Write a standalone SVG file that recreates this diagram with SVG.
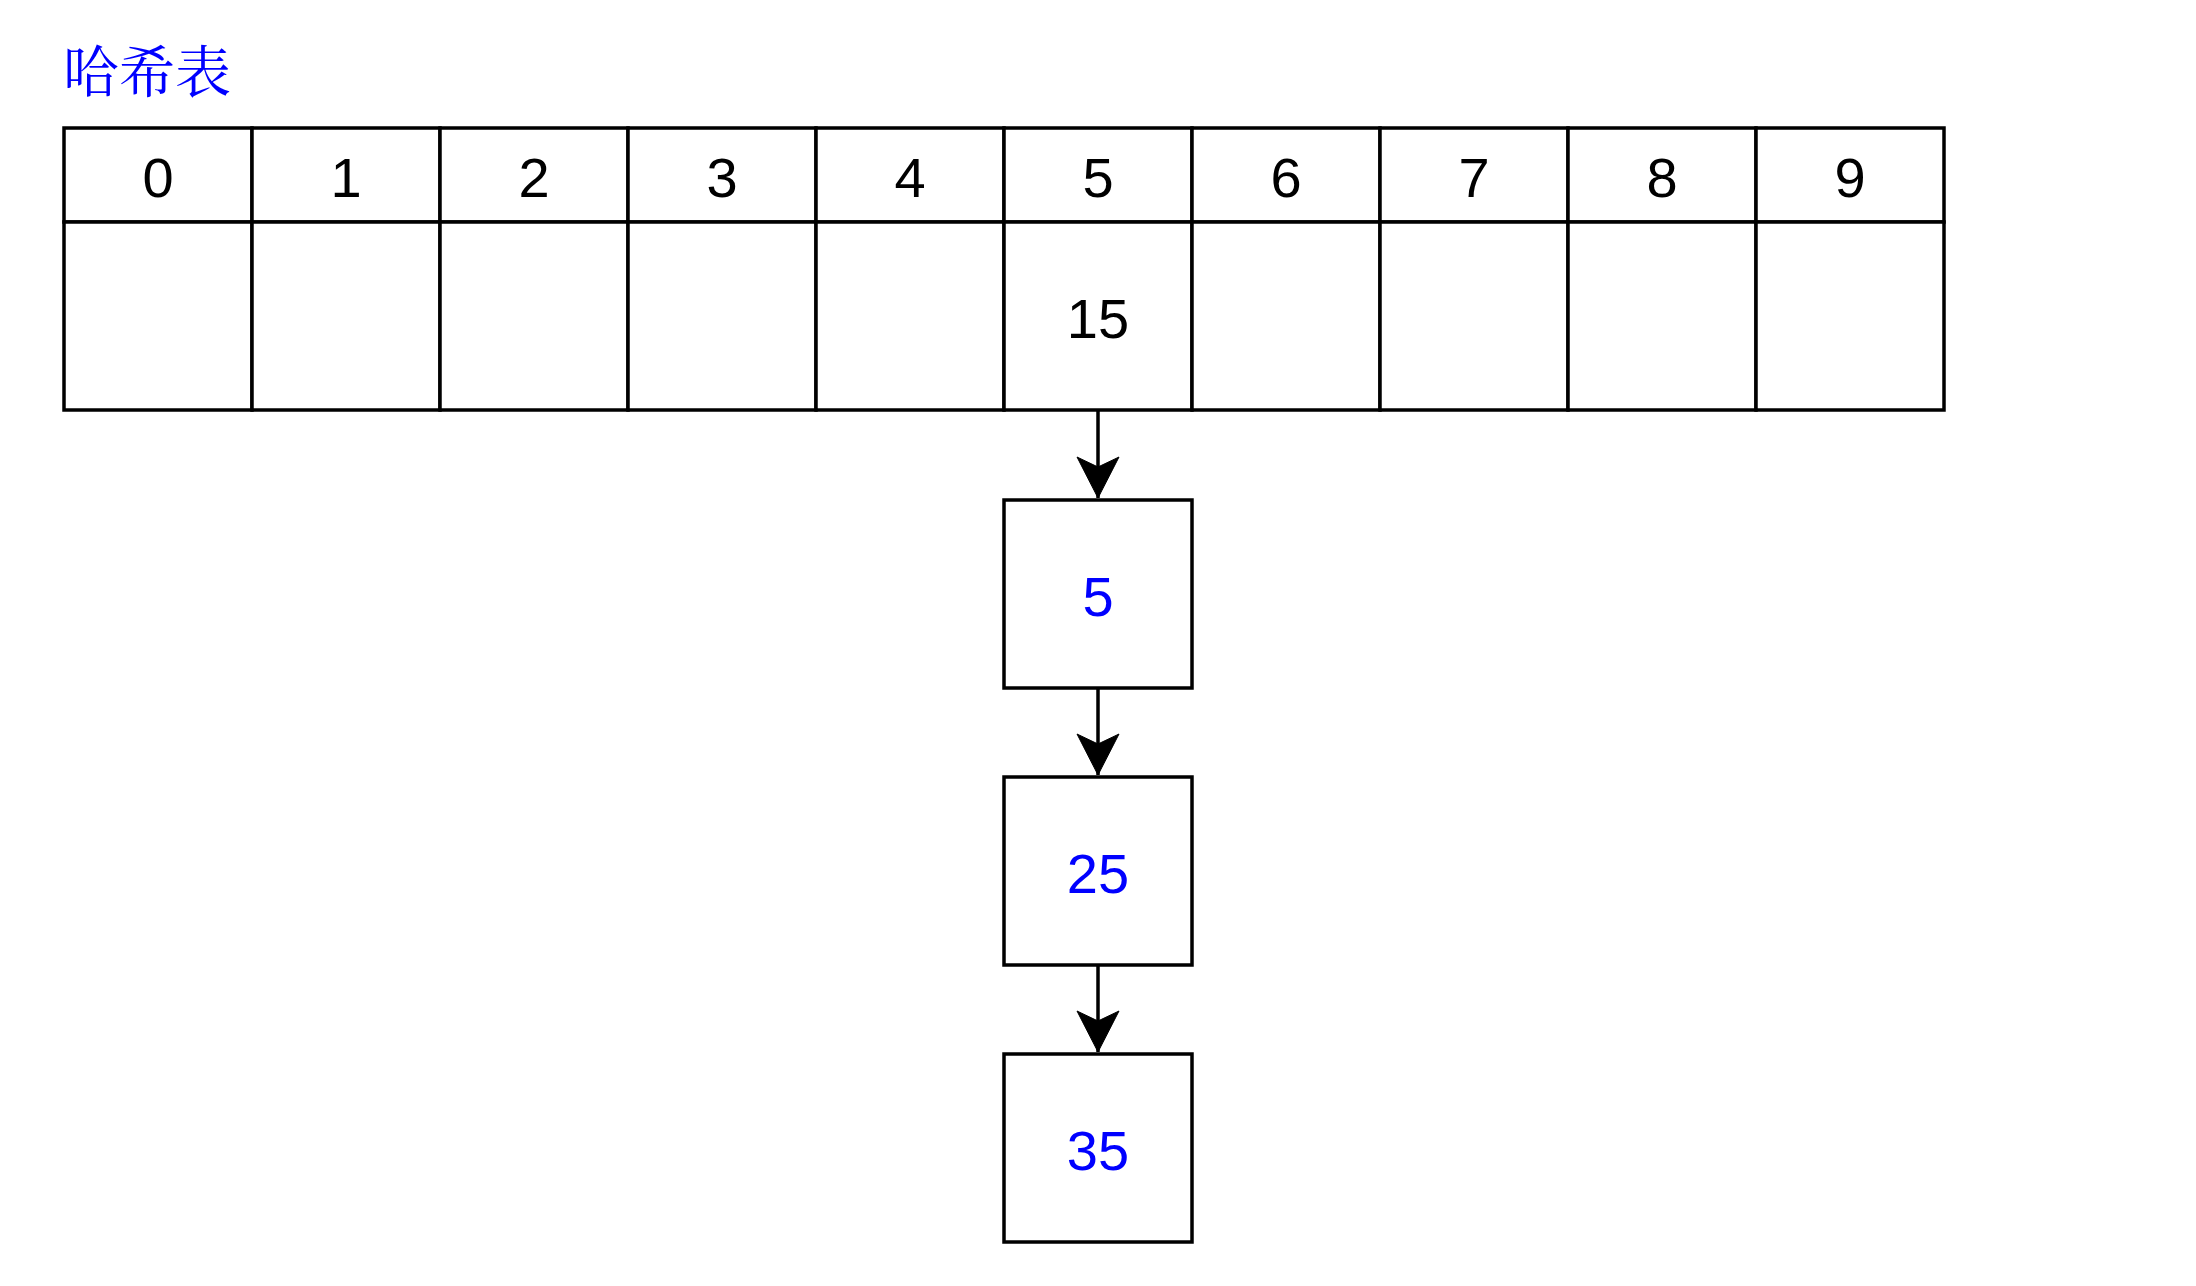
<svg xmlns="http://www.w3.org/2000/svg" width="2196" height="1286" viewBox="0 0 2196 1286">
<style>
.cell{fill:#fff;stroke:#000;stroke-width:3.5}
.t{font-family:"Liberation Sans",Arial,sans-serif;font-size:56px;text-anchor:middle;fill:#000}
.b{fill:#0000ff}
.edge{stroke:#000;stroke-width:3.5;fill:none}
.title{font-family:"Noto Serif CJK SC","Noto Sans CJK SC",serif;font-size:56px;fill:#0000ff}
</style>
<defs>
<marker id="arr" markerUnits="userSpaceOnUse" viewBox="-44 -24 48 48" markerWidth="48" markerHeight="48" refX="0" refY="0" orient="auto">
<path d="M0,0 L-41,-21 L-31,0 L-41,21 Z" fill="#000" stroke="#000" stroke-width="1"/>
</marker>
</defs>
<rect width="2196" height="1286" fill="#fff"/>
<g id="title"><text class="title" x="63" y="92">哈希表</text></g>
<g id="table">
<g id="col0"><rect class="cell" x="64" y="128" width="188" height="94"/><rect class="cell" x="64" y="222" width="188" height="188"/><text class="t" x="158" y="197">0</text></g>
<g id="col1"><rect class="cell" x="252" y="128" width="188" height="94"/><rect class="cell" x="252" y="222" width="188" height="188"/><text class="t" x="346" y="197">1</text></g>
<g id="col2"><rect class="cell" x="440" y="128" width="188" height="94"/><rect class="cell" x="440" y="222" width="188" height="188"/><text class="t" x="534" y="197">2</text></g>
<g id="col3"><rect class="cell" x="628" y="128" width="188" height="94"/><rect class="cell" x="628" y="222" width="188" height="188"/><text class="t" x="722" y="197">3</text></g>
<g id="col4"><rect class="cell" x="816" y="128" width="188" height="94"/><rect class="cell" x="816" y="222" width="188" height="188"/><text class="t" x="910" y="197">4</text></g>
<g id="col5"><rect class="cell" x="1004" y="128" width="188" height="94"/><rect class="cell" x="1004" y="222" width="188" height="188"/><text class="t" x="1098" y="197">5</text><text class="t" x="1098" y="338">15</text></g>
<g id="col6"><rect class="cell" x="1192" y="128" width="188" height="94"/><rect class="cell" x="1192" y="222" width="188" height="188"/><text class="t" x="1286" y="197">6</text></g>
<g id="col7"><rect class="cell" x="1380" y="128" width="188" height="94"/><rect class="cell" x="1380" y="222" width="188" height="188"/><text class="t" x="1474" y="197">7</text></g>
<g id="col8"><rect class="cell" x="1568" y="128" width="188" height="94"/><rect class="cell" x="1568" y="222" width="188" height="188"/><text class="t" x="1662" y="197">8</text></g>
<g id="col9"><rect class="cell" x="1756" y="128" width="188" height="94"/><rect class="cell" x="1756" y="222" width="188" height="188"/><text class="t" x="1850" y="197">9</text></g>
</g>
<g id="node5"><rect class="cell" x="1004" y="500" width="188" height="188"/><text class="t b" x="1098" y="616">5</text></g>
<g id="node25"><rect class="cell" x="1004" y="777" width="188" height="188"/><text class="t b" x="1098" y="893">25</text></g>
<g id="node35"><rect class="cell" x="1004" y="1054" width="188" height="188"/><text class="t b" x="1098" y="1170">35</text></g>
<g id="connectors">
<line class="edge" x1="1098" y1="410" x2="1098" y2="498" marker-end="url(#arr)"/>
<line class="edge" x1="1098" y1="688" x2="1098" y2="775" marker-end="url(#arr)"/>
<line class="edge" x1="1098" y1="965" x2="1098" y2="1052" marker-end="url(#arr)"/>
</g>
</svg>
